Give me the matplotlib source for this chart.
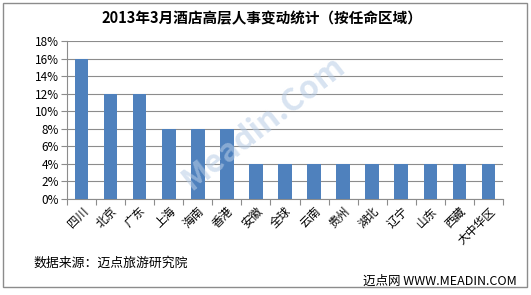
import matplotlib
matplotlib.use("Agg")
import matplotlib.pyplot as plt
from matplotlib.patches import Rectangle
from matplotlib.ticker import FuncFormatter, MultipleLocator

plt.rcParams['font.family'] = ['Noto Sans CJK SC', 'DejaVu Sans']

categories = ["四川", "北京", "广东", "上海", "海南", "香港", "安徽", "全球", "云南",
              "贵州", "湖北", "辽宁", "山东", "西藏", "大中华区"]
values = [16, 12, 12, 8, 8, 8, 4, 4, 4, 4, 4, 4, 4, 4, 4]

W, H = 531, 295
fig = plt.figure(figsize=(W / 100, H / 100), dpi=100)

# outer border
fig.patches.append(Rectangle((3 / W, 8 / H), 524 / W, 284 / H, transform=fig.transFigure,
                             fill=False, edgecolor="#8c8c8c", linewidth=1.0))

left, right, top, bottom = 67, 503, 41, 199
ax = fig.add_axes([left / W, 1 - bottom / H, (right - left) / W, (bottom - top) / H])

x = list(range(len(categories)))
ax.bar(x, values, width=0.47, color="#4F81BD", zorder=3)
ax.set_xlim(-0.5, len(categories) - 0.5)
ax.set_ylim(0, 18)
ax.yaxis.set_major_locator(MultipleLocator(2))
ax.yaxis.set_major_formatter(FuncFormatter(lambda v, p: f"{int(v)}%"))
ax.grid(axis="y", color="#8c8c8c", linewidth=0.8, zorder=0)
for s in ["top", "right"]:
    ax.spines[s].set_visible(False)
ax.spines["left"].set_color("#8c8c8c")
ax.spines["bottom"].set_color("#8c8c8c")
ax.tick_params(axis="y", labelsize=8.5, length=4, color="#8c8c8c", pad=2)
ax.set_xticks([i - 0.5 for i in range(len(categories) + 1)], minor=False)
ax.set_xticklabels([])
ax.tick_params(axis="x", length=4, color="#8c8c8c", direction="out")
ax.set_xticks(x, minor=True)
ax.set_xticklabels(categories, minor=True, rotation=45, ha="right", rotation_mode="anchor",
                   fontsize=8.5)
ax.tick_params(axis="x", which="minor", length=0, pad=4)

fig.text(262 / W, 1 - 18 / H, "2013年3月酒店高层人事变动统计（按任命区域）",
         ha="center", va="center", fontsize=10.5, fontweight="bold")

# watermark
fig.text(263 / W, 1 - 123 / H, "Meadin.Com", ha="center", va="center", rotation=38,
         fontsize=23, color="#b8cde6", alpha=0.55, fontweight="bold", zorder=10)

fig.text(33 / W, 1 - 263 / H, "数据来源：迈点旅游研究院", ha="left", va="center", fontsize=9.3)
fig.text(363 / W, 1 - 281 / H, "迈点网 WWW.MEADIN.COM", ha="left", va="center", fontsize=9)

fig.savefig("out.png", dpi=100)
